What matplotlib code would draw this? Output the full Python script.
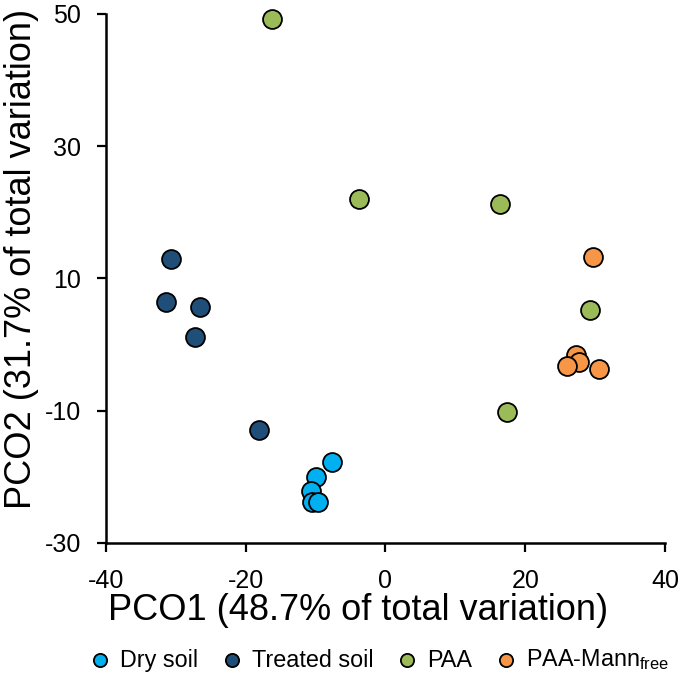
import matplotlib
matplotlib.use('Agg')
import matplotlib.pyplot as plt

plt.rcParams['font.family'] = ['Liberation Sans', 'DejaVu Sans']
plt.rcParams['mathtext.fontset'] = 'custom'
plt.rcParams['mathtext.rm'] = 'Liberation Sans'
plt.rcParams['axes.unicode_minus'] = False

# PCO scores
dry_x = [-7.6, -9.9, -10.7, -10.5, -9.7]
dry_y = [-17.8, -20.0, -22.2, -23.8, -23.8]

treated_x = [-30.7, -31.4, -26.6, -27.3, -18.1]
treated_y = [13.0, 6.5, 5.7, 1.1, -12.9]

paa_x = [-16.3, -3.8, 16.4, 29.2, 17.4]
paa_y = [49.2, 22.0, 21.2, 5.2, -10.2]

mann_x = [29.7, 27.3, 27.7, 26.0, 30.5]
mann_y = [13.3, -1.6, -2.6, -3.2, -3.7]

groups = [
    ('Dry soil', dry_x, dry_y, '#00B0F0'),
    ('Treated soil', treated_x, treated_y, '#1F4E79'),
    ('PAA', paa_x, paa_y, '#9BBB59'),
    (r'PAA-Mann$_{\mathrm{free}}$', mann_x, mann_y, '#F79646'),
]

fig = plt.figure(figsize=(6.85, 6.75), dpi=100)
ax = fig.add_axes([0.1547, 0.1956, 0.8161, 0.7837])

for nome, xs, ys, cor in groups:
    ax.scatter(xs, ys, s=185, color=cor, edgecolors='black', linewidths=1.3,
               label=nome, zorder=3, clip_on=False)

ax.set_xlim(-40, 40)
ax.set_ylim(-30, 50)
ax.set_xticks([-40, -20, 0, 20, 40])
ax.set_yticks([-30, -10, 10, 30, 50])
ax.spines['top'].set_visible(False)
ax.spines['right'].set_visible(False)
for sp in ['left', 'bottom']:
    ax.spines[sp].set_linewidth(1.8)
ax.tick_params(direction='out', length=6.5, width=1.6, labelsize=18)
ax.tick_params(axis='x', pad=12)
ax.tick_params(axis='y', pad=11.5)

# rotulos dos eixos posicionados como no original
fig.text(358 / 685, 1 - 611 / 675, 'PCO1 (48.7% of total variation)', fontsize=26,
         ha='center', va='center')
fig.text(22 / 685, 1 - 259 / 675, 'PCO2 (31.7% of total variation)', fontsize=26,
         ha='center', va='center', rotation=90)

fig.legend(loc='center', bbox_to_anchor=(0.556, 1 - 660 / 675), ncol=4, frameon=False,
           fontsize=16.8, handlelength=0.6, handletextpad=0.55, columnspacing=1.15,
           markerscale=0.7, borderpad=0, borderaxespad=0)

plt.savefig('out.png', dpi=100)
